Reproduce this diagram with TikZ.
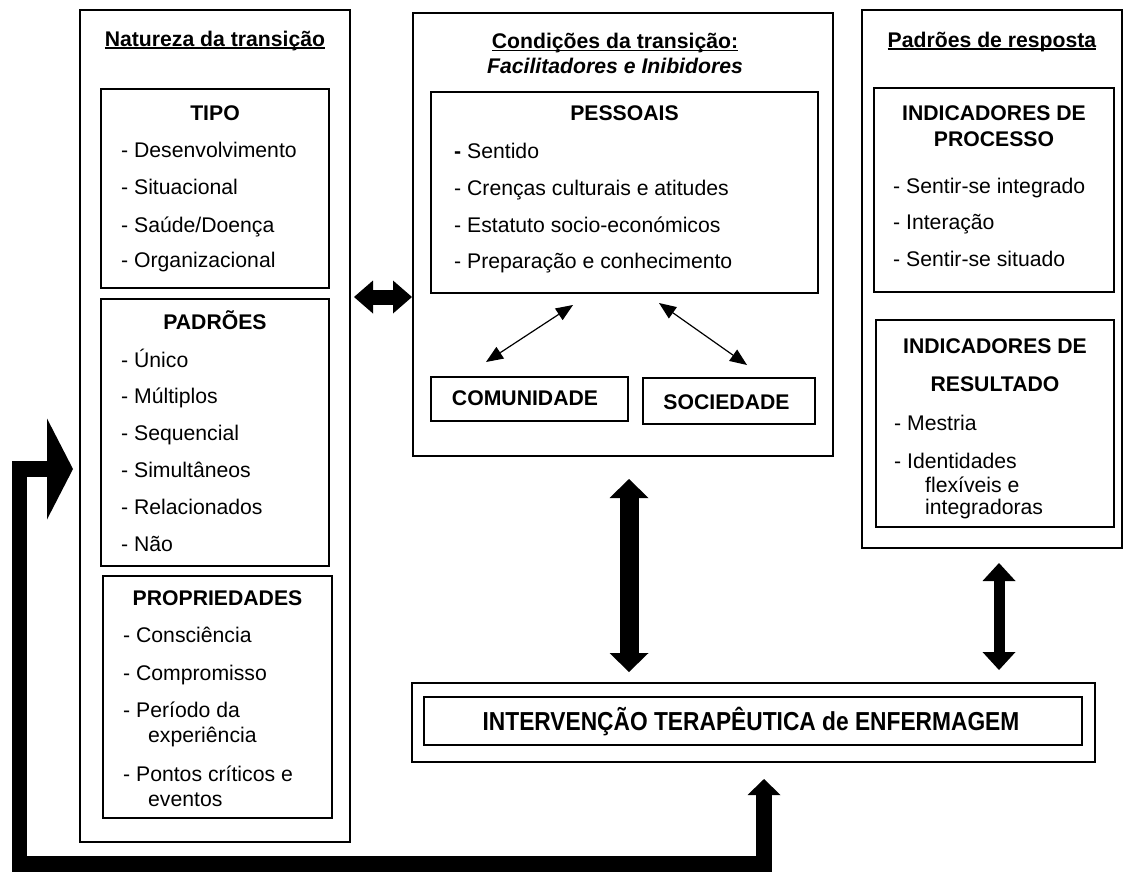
\documentclass[tikz,border=0pt]{standalone}
\usepackage{fontspec}
\setmainfont{Liberation Sans}
\usepackage{graphicx}
\usetikzlibrary{arrows.meta}
\newcommand\myul[1]{\setbox0=\hbox{#1}\rlap{\rule[-2.6pt]{\wd0}{1.5pt}}\box0}
\tikzset{
  obox/.style={draw, line width=2pt, inner sep=0pt},
  ibox/.style={draw, line width=1.5pt, inner sep=0pt},
  itm/.style={anchor=base west, inner sep=0pt, font=\fontsize{21.2}{25}\selectfont},
  hdr/.style={anchor=base, inner sep=0pt, font=\fontsize{21.2}{25}\selectfont\bfseries},
  thinarr/.style={line width=1.2pt, {Triangle[width=14pt,length=17pt,line width=0pt]}-{Triangle[width=14pt,length=17pt,line width=0pt]}},
  fatarr/.style={line width=19pt, {Triangle[width=39pt,length=19pt,line width=0pt]}-{Triangle[width=39pt,length=19pt,line width=0pt]}},
  medarr/.style={line width=11pt, {Triangle[width=33pt,length=18pt,line width=0pt]}-{Triangle[width=33pt,length=18pt,line width=0pt]}},
  horarr/.style={line width=15pt, {Triangle[width=33pt,length=19pt,line width=0pt]}-{Triangle[width=33pt,length=19pt,line width=0pt]}},
  looparr/.style={line width=15.5pt, line join=miter, {Triangle[width=101pt,length=26pt,line width=0pt]}-{Triangle[width=33pt,length=16pt,line width=0pt]}}
}
\begin{document}
\begin{tikzpicture}[x=1pt,y=-1pt]
\useasboundingbox (0,0) rectangle (1124,871);
% ---------- left column ----------
\node[obox, minimum width=270, minimum height=832] (nat) at (215,426) {};
\node[hdr] (natT) at (215,46) {\myul{Natureza da transição}};
\node[ibox, minimum width=228, minimum height=199] (tipo) at (215,188.5) {};
\node[hdr] (tipoT) at (215,120.5) {TIPO};
\node[itm] (t1) at (121,157.3) {- Desenvolvimento};
\node[itm] (t2) at (121,194.8) {- Situacional};
\node[itm] (t3) at (121,232.1) {- Saúde/Doença};
\node[itm] (t4) at (121,267.4) {- Organizacional};
\node[ibox, minimum width=228, minimum height=267] (padr) at (215,432.5) {};
\node[hdr] (padrT) at (215,329.5) {PADRÕES};
\node[itm] (p1) at (121,367) {- Único};
\node[itm] (p2) at (121,403.7) {- Múltiplos};
\node[itm] (p3) at (121,440.3) {- Sequencial};
\node[itm] (p4) at (121,477) {- Simultâneos};
\node[itm] (p5) at (121,514.3) {- Relacionados};
\node[itm] (p6) at (121,551) {- Não};
\node[ibox, minimum width=229, minimum height=242] (prop) at (217.5,697) {};
\node[hdr] (propT) at (217.5,605) {PROPRIEDADES};
\node[itm] (r1) at (123,642.7) {- Consciência};
\node[itm] (r2) at (123,680.3) {- Compromisso};
\node[itm] (r3) at (123,717) {- Período da};
\node[itm] (r3b) at (148,742.7) {experiência};
\node[itm] (r4) at (123,781) {- Pontos críticos e};
\node[itm] (r4b) at (148,806.3) {eventos};
% ---------- middle column ----------
\node[obox, minimum width=420, minimum height=443] (cond) at (623,234.5) {};
\node[hdr] (condT) at (615,48.7) {\myul{Condições da transição:}};
\node[hdr, font=\fontsize{21.2}{25}\selectfont\bfseries\itshape] (condS) at (615,73.7) {Facilitadores e Inibidores};
\node[ibox, minimum width=387, minimum height=201] (pess) at (624.5,192.5) {};
\node[hdr] (pessT) at (624.5,120.3) {PESSOAIS};
\node[itm] (s1) at (454,158.7) {\textbf{-} Sentido};
\node[itm] (s2) at (454,195.3) {- Crenças culturais e atitudes};
\node[itm] (s3) at (454,232.3) {- Estatuto socio-económicos};
\node[itm] (s4) at (454,268.7) {- Preparação e conhecimento};
\node[ibox, minimum width=197, minimum height=44] (comu) at (529.5,399) {};
\node[hdr] (comuT) at (525,405.5) {COMUNIDADE};
\node[ibox, minimum width=172, minimum height=46] (soc) at (729,401) {};
\node[hdr] (socT) at (726.5,409) {SOCIEDADE};
% ---------- right column ----------
\node[obox, minimum width=260, minimum height=538] (resp) at (992,279) {};
\node[hdr] (respT) at (992,47) {\myul{Padrões de resposta}};
\node[ibox, minimum width=240, minimum height=204] (proc) at (994,190) {};
\node[hdr] (procT1) at (994,120) {INDICADORES DE};
\node[hdr] (procT2) at (994,146) {PROCESSO};
\node[itm] (i1) at (893,193) {- Sentir-se integrado};
\node[itm] (i2) at (893,229) {- Interação};
\node[itm] (i3) at (893,266) {- Sentir-se situado};
\node[ibox, minimum width=238, minimum height=207] (resu) at (995,423.5) {};
\node[hdr] (resuT1) at (995,353) {INDICADORES DE};
\node[hdr] (resuT2) at (995,391) {RESULTADO};
\node[itm] (m1) at (894,430) {- Mestria};
\node[itm] (m2) at (894,468) {- Identidades};
\node[itm] (m2b) at (925,492) {flexíveis e};
\node[itm] (m2c) at (925,514) {integradoras};
% ---------- bottom box ----------
\node[obox, minimum width=683, minimum height=79] (intout) at (753.5,722.5) {};
\node[ibox, line width=1.2pt, minimum width=658, minimum height=48] (intin) at (753,721) {};
\node[anchor=base, inner sep=0pt] (intT) at (751,730) {\scalebox{0.875}[1]{\fontsize{26}{30}\selectfont\bfseries INTERVENÇÃO TERAPÊUTICA de ENFERMAGEM}};
% ---------- connectors ----------
\coordinate (a1) at (573,305); \coordinate (a2) at (486,362);
\coordinate (b1) at (659,303); \coordinate (b2) at (747,365);
\draw[thinarr] (a2) -- (a1);
\draw[thinarr] (b1) -- (b2);
\coordinate (h1) at (354,297); \coordinate (h2) at (412,297);
\draw[horarr] (h1) -- (h2);
\coordinate (v1) at (629,479); \coordinate (v2) at (629,672);
\draw[fatarr] (v1) -- (v2);
\coordinate (w1) at (999,563); \coordinate (w2) at (999,670);
\draw[medarr] (w1) -- (w2);
\coordinate (l1) at (73,469); \coordinate (l2) at (764,779);
\draw[looparr] (l1) -- (19.5,469) -- (19.5,864) -- (764,864) -- (l2);
\end{tikzpicture}
\end{document}
